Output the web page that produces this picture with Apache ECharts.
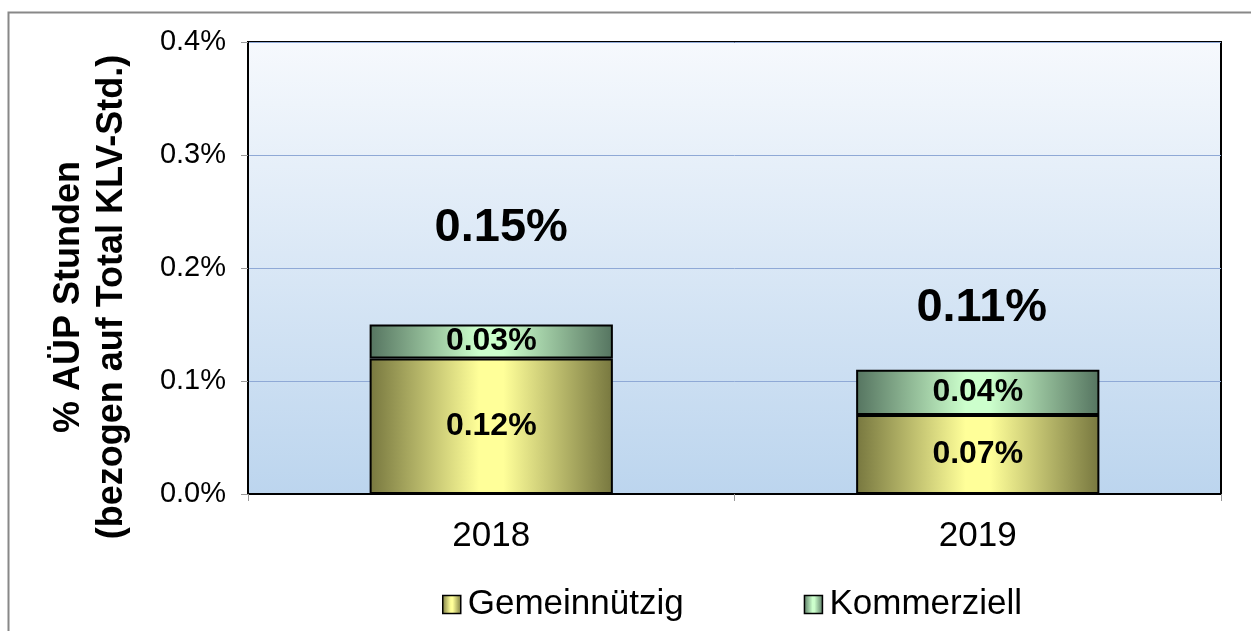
<!DOCTYPE html>
<html>
<head>
<meta charset="utf-8">
<script src="https://cdn.jsdelivr.net/npm/echarts@6/dist/echarts.min.js"></script>
<style>
  html, body { margin: 0; padding: 0; background: #fff; }
  #chart { width: 1251px; height: 631px; }
</style>
</head>
<body>
<div id="chart"></div>
<script>
// Daten
var years = ['2018', '2019'];
var gemeinnuetzig = [0.12, 0.07];
var kommerziell = [0.03, 0.04];
var totals = [0.15, 0.11];
var yTitle = '% AÜP Stunden\n(bezogen auf Total KLV-Std.)';

function hGrad(edge, mid) {
    return new echarts.graphic.LinearGradient(0, 0, 1, 0, [
        { offset: 0, color: edge },
        { offset: 0.45, color: mid },
        { offset: 0.55, color: mid },
        { offset: 1, color: edge }
    ]);
}

var dom = document.getElementById('chart');
var myChart = echarts.init(dom, null, { renderer: 'canvas' });

var font = 'Arial, "Liberation Sans", sans-serif';

var option = {
    animation: false,
    textStyle: { fontFamily: font },
    graphic: [
        {
            type: 'rect',
            left: 6, top: 10,
            shape: { width: 1400, height: 800 },
            style: { fill: 'none', stroke: '#888', lineWidth: 2 },
            z: -10
        },
        // Achsentitel
        {
            type: 'text',
            x: 91, y: 297,
            rotation: Math.PI / 2,
            style: {
                text: yTitle,
                font: 'bold 36px ' + font,
                fill: '#000',
                align: 'center',
                verticalAlign: 'middle',
                lineHeight: 43
            }
        }
    ],
    grid: {
        left: 248, right: 30, top: 42, bottom: 137,
        show: true,
        borderColor: '#000',
        borderWidth: 2,
        backgroundColor: new echarts.graphic.LinearGradient(0, 0, 0, 1, [
            { offset: 0, color: '#f6f9fd' },
            { offset: 1, color: '#bcd5ee' }
        ])
    },
    legend: {
        data: ['Gemeinnützig', 'Kommerziell'],
        left: 437, top: 582,
        itemWidth: 18, itemHeight: 18,
        itemGap: 120,
        icon: 'rect',
        itemStyle: { borderColor: '#000', borderWidth: 1.5 },
        textStyle: { fontSize: 35, color: '#000', fontFamily: font, padding: [0, 0, 0, 2] }
    },
    xAxis: {
        type: 'category',
        data: years,
        axisLine: { lineStyle: { color: '#000', width: 2 } },
        axisTick: { show: true, length: 7, lineStyle: { color: '#999', width: 1 } },
        axisLabel: { fontSize: 35, color: '#000', margin: 25 }
    },
    yAxis: {
        type: 'value',
        min: 0, max: 0.4, interval: 0.1,
        axisLine: { show: true, lineStyle: { color: '#000', width: 2 } },
        axisTick: { show: true, length: 7, lineStyle: { color: '#999', width: 1 } },
        axisLabel: {
            fontSize: 29, color: '#000', margin: 22,
            formatter: function (v) { return v.toFixed(1) + '%'; }
        },
        splitLine: { lineStyle: { color: '#8fa9d6', width: 1 } }
    },
    series: [
        {
            name: 'Gemeinnützig',
            type: 'bar',
            stack: 'a',
            barWidth: '50%',
            data: gemeinnuetzig,
            itemStyle: { color: hGrad('#77773f', '#ffff99'), borderColor: '#000', borderWidth: 2 },
            label: {
                show: true, position: 'inside',
                fontSize: 32, fontWeight: 'bold', color: '#000',
                formatter: function (p) { return p.value.toFixed(2) + '%'; }
            }
        },
        {
            name: 'Kommerziell',
            type: 'bar',
            stack: 'a',
            data: kommerziell,
            itemStyle: { color: hGrad('#557460', '#ccffcc'), borderColor: '#000', borderWidth: 2 },
            label: {
                show: true, position: 'inside',
                fontSize: 32, fontWeight: 'bold', color: '#000',
                formatter: function (p) { return p.value.toFixed(2) + '%'; }
            }
        },
        {
            name: 'Total',
            type: 'scatter',
            symbolSize: 0,
            itemStyle: { opacity: 1 },
            data: totals.map(function (v, i) {
                return {
                    value: v,
                    label: { offset: i === 0 ? [10, -96] : [4, -62] }
                };
            }),
            label: {
                show: true, position: 'inside',
                fontSize: 47, fontWeight: 'bold', color: '#000', opacity: 1,
                formatter: function (p) { return p.value.toFixed(2) + '%'; }
            },
            z: 5
        }
    ]
};

myChart.setOption(option);
window.addEventListener('resize', myChart.resize);
</script>
</body>
</html>
